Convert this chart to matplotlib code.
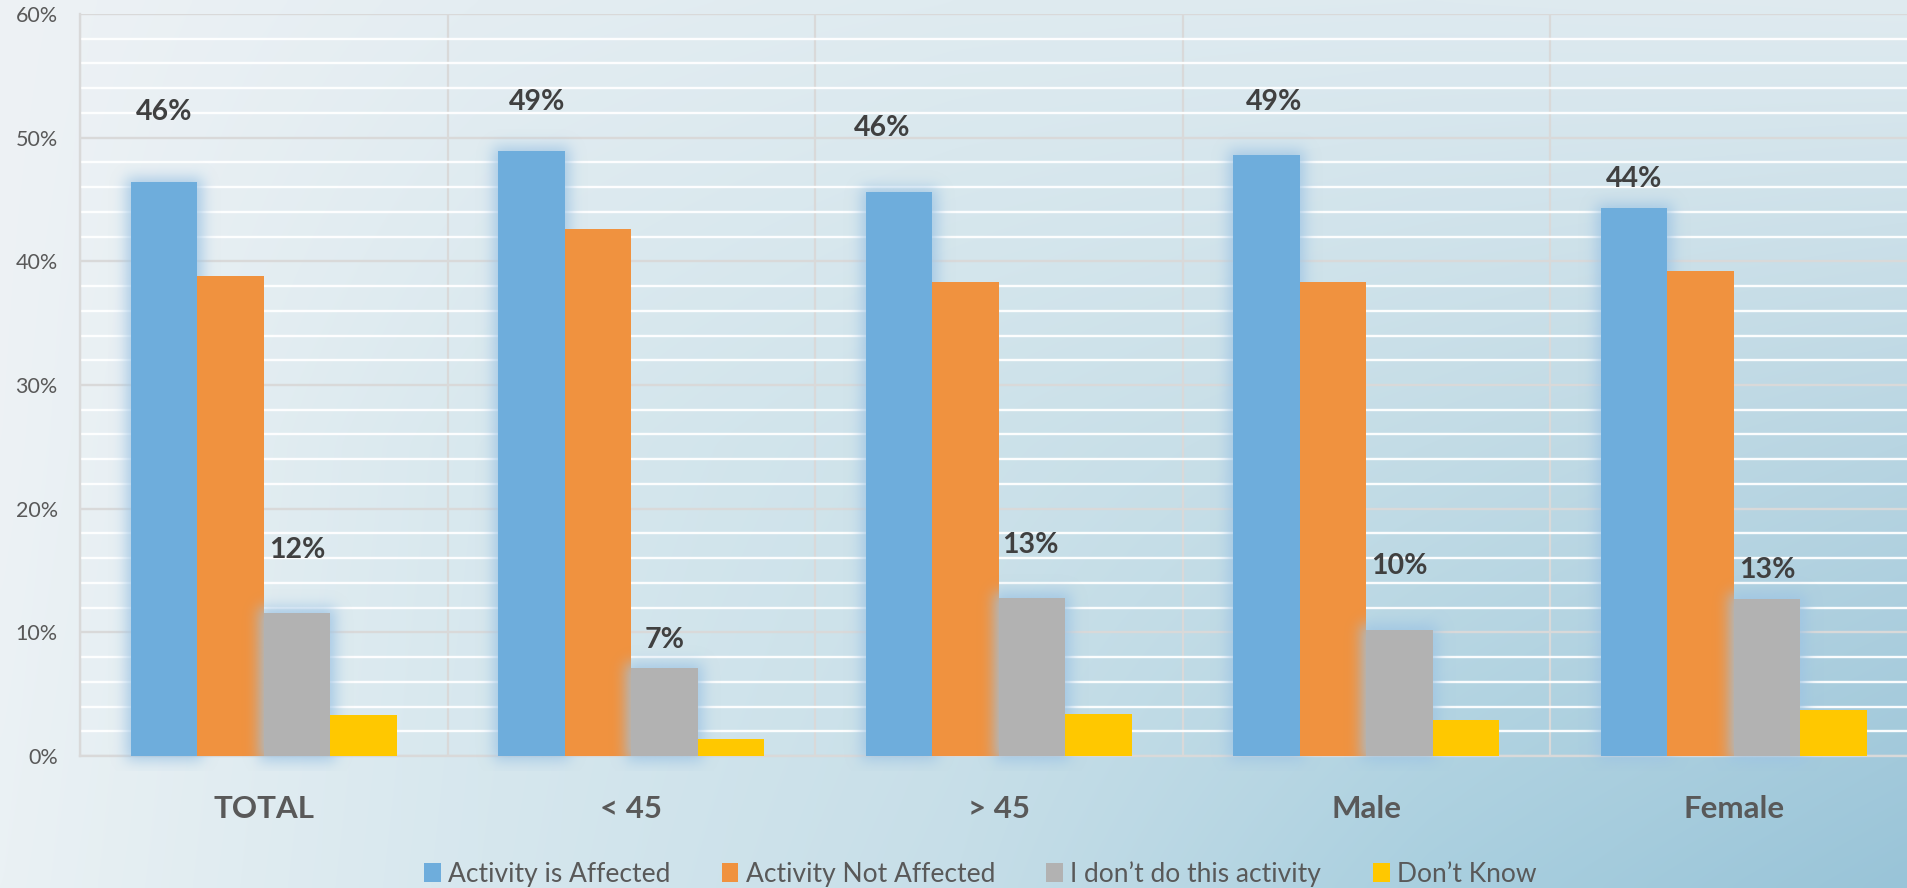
import math
import numpy as np
import matplotlib
matplotlib.use("Agg")
import matplotlib.pyplot as plt
from matplotlib.colors import to_rgb
from matplotlib.ticker import MultipleLocator, FuncFormatter

plt.rcParams["font.family"] = ["Lato", "DejaVu Sans"]

# ---- data -------------------------------------------------------------
categories = ["TOTAL", "< 45", "> 45", "Male", "Female"]
series_names = ["Activity is Affected", "Activity Not Affected",
                "I don\u2019t do this activity", "Don\u2019t Know"]
affected = [46.4, 48.9, 45.6, 48.6, 44.3]
not_affected = [38.8, 42.6, 38.3, 38.3, 39.2]
dont_do = [11.6, 7.1, 12.8, 10.2, 12.7]
dont_know = [3.3, 1.4, 3.4, 2.9, 3.7]

# ---- styling / layout ------------------------------------------------
colors = ["#6eaddc", "#f0923f", "#b2b2b2", "#ffc800"]
text_dark = "#404040"
text_mid = "#595959"
grid_major = "#d9d9d9"

# label placement (pixel offsets from the top-centre of the bar)
affected_lbl_dx = [0, 6, -17, 8, 0]
affected_lbl_dy = [62, 41, 56, 45, 21]
dontdo_lbl_dx = [0, 0, -2, 0, 0]
dontdo_lbl_dy = [55, 20, 45, 56, 21]

W, H, DPI = 1908, 888, 100
fig = plt.figure(figsize=(W / DPI, H / DPI), dpi=DPI)

# ---- background gradient -------------------------------------------
gx = [0.0, 0.25, 0.5, 0.75, 1.0]
gy = [0.0, 0.5, 1.0]
grid_cols = [
    ["#eef2f5", "#e4edf2", "#dfebf0", "#deeaf0", "#e0ebf0"],
    ["#edf2f5", "#d8e8ee", "#cde2ea", "#c3dce6", "#b8d5e2"],
    ["#eaf1f4", "#d6e7ee", "#c6dee8", "#a9cfdf", "#99c4d8"],
]
ctrl = np.array([[to_rgb(c) for c in row] for row in grid_cols])  # (3,5,3)
nx, ny = 400, 200
xs = np.linspace(0, 1, nx)
ys = np.linspace(0, 1, ny)
rows = np.empty((len(gy), nx, 3))
for i in range(len(gy)):
    for ch in range(3):
        rows[i, :, ch] = np.interp(xs, gx, ctrl[i, :, ch])
bg = np.empty((ny, nx, 3))
for j in range(nx):
    for ch in range(3):
        bg[:, j, ch] = np.interp(ys, gy, rows[:, j, ch])
bg_ax = fig.add_axes([0, 0, 1, 1], zorder=-10)
bg_ax.imshow(bg, aspect="auto", extent=[0, 1, 1, 0], interpolation="bicubic")
bg_ax.set_xlim(0, 1)
bg_ax.set_ylim(1, 0)
bg_ax.axis("off")

# ---- main axes -------------------------------------------------------
ax_left, ax_right, ax_top, ax_bottom = 80, 1908, 14, 756
ax = fig.add_axes([ax_left / W, 1 - ax_bottom / H,
                   (ax_right - ax_left) / W, (ax_bottom - ax_top) / H])
ax.set_facecolor("none")

cat_px = 367.5
n = len(categories)
x = np.arange(n)
bar_w = 66.5 / cat_px
offsets = (np.arange(4) - 1.5) * bar_w
px_x = 1 / cat_px
px_y = 60 / (ax_bottom - ax_top)


def phi(z):
    return 0.5 * (1 + np.vectorize(math.erf)(z / math.sqrt(2)))


def add_glow(xc, height, zorder, color="#9dc4e4", spread=30, sigma=7.0,
             grow=5.0, amp=0.85):
    """Soft outer glow around a bar, drawn as an RGBA image."""
    x0, x1 = xc - bar_w / 2, xc + bar_w / 2
    ext = [x0 - spread * px_x, x1 + spread * px_x,
           -spread * px_y * 0.5, height + spread * px_y]
    gxx = np.linspace(ext[0], ext[1], 90)
    gyy = np.linspace(ext[2], ext[3], 320)
    ux = (gxx - x0) / px_x
    wx = (x1 - x0) / px_x
    uy = gyy / px_y
    hy = height / px_y
    ax_x = phi((ux + grow) / sigma) - phi((ux - wx - grow) / sigma)
    ax_y = phi((uy + grow) / sigma) - phi((uy - hy - grow) / sigma)
    alpha = amp * np.outer(ax_y, ax_x)
    img = np.zeros((len(gyy), len(gxx), 4))
    img[..., :3] = to_rgb(color)
    img[..., 3] = alpha
    ax.imshow(img, extent=ext, origin="lower", aspect="auto",
              interpolation="bilinear", zorder=zorder, clip_on=False)


series = [affected, not_affected, dont_do, dont_know]
handles = []
for k, vals in enumerate(series):
    base_z = 3 + 2 * k
    if k in (0, 2):
        for i, v in enumerate(vals):
            add_glow(x[i] + offsets[k], v, zorder=base_z - 0.5)
    bars = ax.bar(x + offsets[k], vals, width=bar_w, color=colors[k],
                  zorder=base_z, label=series_names[k], linewidth=0)
    handles.append(bars)

ax.set_xlim(-0.5, -0.5 + (ax_right - ax_left) / cat_px)
ax.set_ylim(0, 60)

# gridlines
ax.yaxis.set_major_locator(MultipleLocator(10))
ax.yaxis.set_minor_locator(MultipleLocator(2))
ax.grid(axis="y", which="minor", color="white", linewidth=1.7, alpha=0.95,
        zorder=0)
ax.grid(axis="y", which="major", color=grid_major, linewidth=1.7, zorder=0.5)
ax.set_axisbelow(True)
for b in np.arange(n + 1) - 0.5:
    ax.axvline(b, color=grid_major, linewidth=1.6, zorder=0.5)

for side in ("top", "right"):
    ax.spines[side].set_visible(False)
for side in ("left", "bottom"):
    ax.spines[side].set_color(grid_major)
    ax.spines[side].set_linewidth(1.7)
    ax.spines[side].set_zorder(0.6)

ax.yaxis.set_major_formatter(FuncFormatter(lambda v, _: f"{v:.0f}%"))
ax.tick_params(axis="y", which="both", length=0, pad=16, labelsize=15.5,
               labelcolor=text_mid)
ax.set_xticks(x)
ax.set_xticklabels(categories, fontsize=22.5, fontweight="bold",
                   color=text_mid)
ax.tick_params(axis="x", length=0, pad=28)

# value labels
for i in range(n):
    ax.annotate(f"{affected[i]:.0f}%", xy=(x[i] + offsets[0], affected[i]),
                xytext=(affected_lbl_dx[i], affected_lbl_dy[i]),
                textcoords="offset pixels", ha="center", va="baseline",
                fontsize=20.5, fontweight="bold", color=text_dark, zorder=20)
    ax.annotate(f"{dont_do[i]:.0f}%", xy=(x[i] + offsets[2], dont_do[i]),
                xytext=(dontdo_lbl_dx[i], dontdo_lbl_dy[i]),
                textcoords="offset pixels", ha="center", va="baseline",
                fontsize=20.5, fontweight="bold", color=text_dark, zorder=20)

# legend
fig.legend(handles=handles, labels=series_names, loc="center",
           bbox_to_anchor=(980 / W, 14 / H), ncol=4, frameon=False,
           fontsize=19, labelcolor=text_mid, handlelength=0.64,
           handleheight=0.72, handletextpad=0.27, columnspacing=1.95,
           borderpad=0, borderaxespad=0)

fig.savefig("out.png", dpi=DPI)
